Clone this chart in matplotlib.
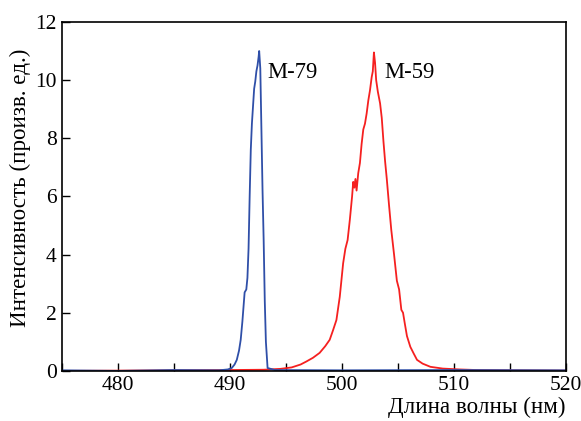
import matplotlib.pyplot as plt
from matplotlib.ticker import MultipleLocator

# спектры
wl_m79 = [475, 480, 485, 489.0, 489.8, 490.15, 490.4, 490.6, 490.8, 490.95, 491.1,
          491.2, 491.3, 491.45, 491.55, 491.65, 491.75, 491.85, 491.95, 492.05,
          492.15, 492.25, 492.35, 492.45, 492.55, 492.6, 492.7, 492.8, 492.9,
          493.0, 493.1, 493.2, 493.35, 494, 500, 510, 520]
int_m79 = [0.02, 0.0, 0.03, 0.02, 0.05, 0.1, 0.22, 0.38, 0.7, 1.07, 1.7,
           2.2, 2.7, 2.8, 3.2, 4.2, 6.0, 7.6, 8.5, 9.1,
           9.7, 9.95, 10.3, 10.5, 10.8, 11.0, 10.4, 8.3, 6.2,
           4.5, 2.4, 1.0, 0.1, 0.03, 0.02, 0.03, 0.02]

wl_m59 = [475, 485, 490, 493, 494.5, 495.5, 496.3, 496.8, 497.4, 498.0, 498.5,
          498.9, 499.2, 499.5, 499.8, 500.1, 500.3, 500.5, 500.7, 500.9, 501.0,
          501.1, 501.2, 501.3, 501.45, 501.6, 501.75, 501.9, 502.05, 502.2,
          502.35, 502.5, 502.65, 502.75, 502.85, 502.95, 503.05, 503.2, 503.4,
          503.55, 503.7, 503.85, 504.0, 504.2, 504.4, 504.65, 504.9, 505.1,
          505.3, 505.45, 505.6, 505.8, 506.1, 506.4, 506.7, 507.2, 507.9,
          509, 510.5, 512, 515, 520]
int_m59 = [0.0, 0.02, 0.03, 0.04, 0.07, 0.12, 0.22, 0.32, 0.45, 0.62, 0.85,
           1.07, 1.4, 1.75, 2.55, 3.7, 4.2, 4.5, 5.2, 6.0, 6.5,
           6.3, 6.6, 6.2, 6.8, 7.15, 7.8, 8.3, 8.5, 8.85,
           9.3, 9.65, 10.1, 10.3, 10.95, 10.6, 10.0, 9.6, 9.2,
           8.7, 7.9, 7.2, 6.6, 5.7, 4.85, 4.0, 3.1, 2.8,
           2.1, 2.0, 1.65, 1.2, 0.83, 0.6, 0.38, 0.25, 0.14,
           0.08, 0.05, 0.03, 0.02, 0.01]

labels = ["M-79", "M-59"]
label_pos = [(493.3, 10.25), (503.75, 10.25)]

plt.rcParams['font.family'] = ['Liberation Serif', 'DejaVu Serif']

fig = plt.figure(figsize=(5.81, 4.21), dpi=100)
ax = fig.add_axes([0.107, 0.119, 0.867, 0.829])

ax.plot(wl_m59, int_m59, color='#f52020', lw=1.3)
ax.plot(wl_m79, int_m79, color='#2f4fa8', lw=1.3)

for txt, (x, y) in zip(labels, label_pos):
    ax.text(x, y, txt, fontsize=16.3, va='center', ha='left')

ax.set_xlim(475, 520)
ax.set_ylim(0, 12)
ax.xaxis.set_major_locator(MultipleLocator(10))
ax.xaxis.set_minor_locator(MultipleLocator(5))
ax.yaxis.set_major_locator(MultipleLocator(2))
ax.tick_params(which='both', direction='in', length=6, width=1,
               labelsize=15.5, pad=4, top=False, right=False)

for s in ax.spines.values():
    s.set_linewidth(1.2)

ax.set_ylabel("Интенсивность (произв. ед.)", fontsize=16.6)
ax.yaxis.set_label_coords(-0.062, 0.525)
ax.set_xlabel("Длина волны (нм)", fontsize=16.6, loc='right', labelpad=1)

fig.savefig("out.png", dpi=100)
